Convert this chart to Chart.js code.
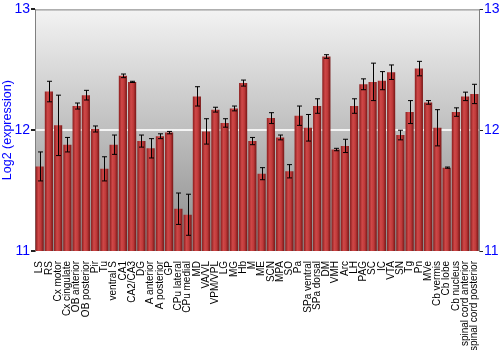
<!DOCTYPE html>
<html lang="en">
<head>
    <meta charset="UTF-8">
    <title>Log2 expression</title>
    <script src="https://cdn.jsdelivr.net/npm/chart.js"></script>
    <style>
        html, body { margin: 0; padding: 0; background: #fff; }
        #wrap { width: 500px; height: 350px; }
    </style>
</head>
<body>
    <div id="wrap"><canvas id="myChart"></canvas></div>

    <script>
        const regions = ['LS', 'RS', 'Cx motor', 'Cx cingulate', 'OB anterior', 'OB posterior', 'Pir', 'Tu',
            'ventral S', 'CA1', 'CA2/CA3', 'DG', 'A anterior', 'A posterior', 'GP', 'CPu lateral', 'CPu medial',
            'MD', 'VA/VL', 'VPM/VPL', 'LG', 'MG', 'Hb', 'M', 'ME', 'SCN', 'MPA', 'SO', 'Pa', 'SPa ventral',
            'SPa dorsal', 'DM', 'VMH', 'Arc', 'LH', 'PAG', 'SC', 'IC', 'VTA', 'SN', 'Tg', 'Pn', 'MVe',
            'Cb vermis', 'Cb lobe', 'Cb nucleus', 'spinal cord anterior', 'spinal cord posterior'];

        const expression = [11.70, 12.32, 12.04, 11.88, 12.20, 12.29, 12.01, 11.68,
            11.88, 12.45, 12.40, 11.91, 11.85, 11.95, 11.98, 11.35, 11.30,
            12.28, 11.99, 12.17, 12.06, 12.18, 12.39, 11.91, 11.64, 12.10, 11.94, 11.66, 12.12, 12.02,
            12.20, 12.61, 11.84, 11.87, 12.20, 12.38, 12.40, 12.41, 12.48, 11.96, 12.15, 12.51, 12.23,
            12.02, 11.69, 12.15, 12.28, 12.30];

        const stdErr = [0.12, 0.085, 0.25, 0.06, 0.025, 0.04, 0.025, 0.10,
            0.08, 0.015, 0.005, 0.05, 0.08, 0.02, 0.01, 0.13, 0.17,
            0.08, 0.105, 0.02, 0.035, 0.02, 0.025, 0.03, 0.05, 0.045, 0.02, 0.055, 0.08, 0.11,
            0.06, 0.015, 0.01, 0.055, 0.06, 0.045, 0.155, 0.075, 0.06, 0.04, 0.095, 0.06, 0.015,
            0.15, 0.005, 0.035, 0.035, 0.08];

        const yTicks = [11, 12, 13];

        const blue = '#0000ff';
        const axisGray = '#808080';
        const barPct = 0.88;

        // gray gradient behind the bars
        const plotBackground = {
            id: 'plotBackground',
            beforeDraw(chart) {
                const { ctx, chartArea: a } = chart;
                const g = ctx.createLinearGradient(0, a.top, 0, a.bottom);
                g.addColorStop(0, '#f3f3f3');
                g.addColorStop(1, '#8a8a8a');
                ctx.save();
                ctx.fillStyle = g;
                ctx.fillRect(a.left, a.top, a.right - a.left, a.bottom - a.top);
                ctx.restore();
            },
            afterDraw(chart) {
                const { ctx, chartArea: a } = chart;
                ctx.save();
                ctx.strokeStyle = axisGray;
                ctx.lineWidth = 1;
                ctx.beginPath();
                ctx.moveTo(a.left, a.top + 0.5);
                ctx.lineTo(a.right, a.top + 0.5);
                ctx.stroke();
                ctx.restore();
            }
        };

        // error bars with small caps
        const errorBars = {
            id: 'errorBars',
            afterDatasetsDraw(chart) {
                const { ctx } = chart;
                const y = chart.scales.y;
                const meta = chart.getDatasetMeta(0);
                ctx.save();
                ctx.strokeStyle = '#000';
                ctx.lineWidth = 1;
                meta.data.forEach((bar, i) => {
                    const x = Math.round(bar.x) + 0.5;
                    const top = y.getPixelForValue(expression[i] + stdErr[i]);
                    const bot = y.getPixelForValue(expression[i] - stdErr[i]);
                    ctx.beginPath();
                    ctx.moveTo(x, top);
                    ctx.lineTo(x, bot);
                    ctx.moveTo(x - 2.5, top);
                    ctx.lineTo(x + 2.5, top);
                    ctx.moveTo(x - 2.5, bot);
                    ctx.lineTo(x + 2.5, bot);
                    ctx.stroke();
                });
                ctx.restore();
            }
        };

        // horizontal shading across each bar, placed with the x scale
        function barFill(context) {
            const chart = context.chart;
            const xs = chart.scales.x;
            if (!chart.chartArea || !xs || !xs.width) return '#b83030';
            const cx = xs.getPixelForValue(context.dataIndex);
            const w = xs.width / regions.length * barPct;
            const left = cx - w / 2;
            const g = chart.ctx.createLinearGradient(left, 0, left + w, 0);
            g.addColorStop(0, '#8a1c1c');
            g.addColorStop(0.35, '#cf4848');
            g.addColorStop(0.65, '#bf3a3a');
            g.addColorStop(1, '#761515');
            return g;
        }

        const canvas = document.getElementById('myChart');
        const ctx = canvas.getContext('2d');

        const myChart = new Chart(ctx, {
            type: 'bar',
            data: {
                labels: regions,
                datasets: [{
                    label: 'Log2 (expression)',
                    data: expression,
                    backgroundColor: barFill,
                    borderWidth: 0,
                    barPercentage: barPct,
                    categoryPercentage: 1.0,
                }]
            },
            options: {
                responsive: true,
                maintainAspectRatio: false,
                animation: false,
                layout: { padding: { top: 9, left: 0, right: 0, bottom: 0 } },
                scales: {
                    x: {
                        grid: { display: false },
                        border: { display: false },
                        ticks: {
                            autoSkip: false,
                            maxRotation: 90,
                            minRotation: 90,
                            padding: 2,
                            color: '#000',
                            font: { family: 'Liberation Sans', size: 10 },
                        },
                        afterFit: (s) => { s.height = 99; },
                    },
                    y: {
                        position: 'left',
                        min: 11,
                        max: 13,
                        afterBuildTicks: (s) => { s.ticks = yTicks.map(v => ({ value: v })); },
                        ticks: {
                            color: blue,
                            padding: 1,
                            font: { family: 'Liberation Sans', size: 14 },
                        },
                        grid: {
                            color: (c) => (c.tick && c.tick.value === 12) ? '#f4f4f4' : 'rgba(0,0,0,0)',
                            lineWidth: 2,
                            tickColor: '#222',
                            tickLength: 4,
                        },
                        border: { color: axisGray, width: 1 },
                        title: {
                            display: true,
                            text: 'Log2 (expression)',
                            color: blue,
                            padding: 0,
                            font: { family: 'Liberation Sans', size: 12.5 },
                        },
                        afterFit: (s) => { s.width = 35; },
                    },
                    y2: {
                        position: 'right',
                        min: 11,
                        max: 13,
                        afterBuildTicks: (s) => { s.ticks = yTicks.map(v => ({ value: v })); },
                        ticks: {
                            color: blue,
                            padding: 1,
                            font: { family: 'Liberation Sans', size: 14 },
                        },
                        grid: { drawOnChartArea: false, tickColor: '#222', tickLength: 4 },
                        border: { color: axisGray, width: 1 },
                        afterFit: (s) => { s.width = 21; },
                    }
                },
                plugins: {
                    legend: { display: false },
                    tooltip: { enabled: false },
                }
            },
            plugins: [plotBackground, errorBars]
        });
    </script>
</body>
</html>
